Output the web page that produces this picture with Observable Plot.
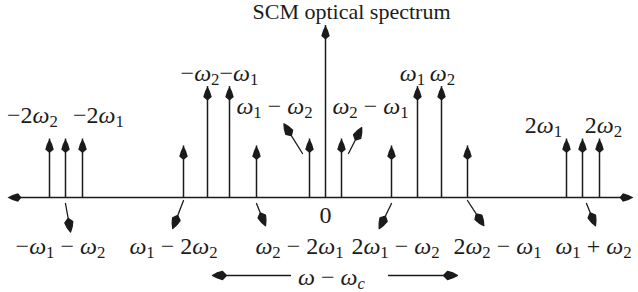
<!DOCTYPE html>
<html><head><meta charset="utf-8">
<script src="https://cdn.jsdelivr.net/npm/d3@7"></script>
<script src="https://cdn.jsdelivr.net/npm/@observablehq/plot@0.6"></script>
<style>html,body{margin:0;padding:0;background:#fff;} svg{display:block}</style>
</head><body><div id="chart"></div>
<script>
// ---- data (arbitrary frequency units, amplitude relative to carrier) ----
const tones = ["−2ω_2","−ω_1 − ω_2","−2ω_1","ω_1 − 2ω_2","−ω_2","−ω_1","ω_2 − 2ω_1","ω_1 − ω_2","0",
               "ω_2 − ω_1","2ω_1 − ω_2","ω_1","ω_2","2ω_2 − ω_1","2ω_1","ω_1 + ω_2","2ω_2"];
const freq  = [-276,-260,-243,-142,-118,-96,-69,-16,0,16,66,92,116,142,241,257,274];
const amp   = [0.34,0.34,0.34,0.30,0.645,0.645,0.30,0.34,1.0,0.34,0.30,0.645,0.645,0.30,0.34,0.34,0.34];
const title = "SCM optical spectrum";
const axisLabel = "ω − ω_c";

const data = tones.map((name, i) => ({name, f: freq[i], a: amp[i]}));
const F = Object.fromEntries(data.map(d => [d.name, d.f]));

// ---- layout (pixel offsets from a tone's base on the axis) ----
const labelLayout = [
  {text: "−2ω_2", of: "−2ω_2", dx: -17, dy: -75},
  {text: "−2ω_1", of: "−2ω_1", dx: 16, dy: -75},
  {text: "−ω_2−ω_1", of: "−ω_2", dx: 12, dy: -117},
  {text: "ω_1 − ω_2", of: "ω_1 − ω_2", dx: -35, dy: -84},
  {text: "ω_2 − ω_1", of: "ω_2 − ω_1", dx: 29, dy: -84},
  {text: "ω_1", of: "ω_1", dx: -5, dy: -117},
  {text: "ω_2", of: "ω_2", dx: 1, dy: -117},
  {text: "2ω_1", of: "2ω_1", dx: -23, dy: -65},
  {text: "2ω_2", of: "2ω_2", dx: 4, dy: -65},
  {text: "0", of: "0", dx: 0, dy: 25},
  {text: "−ω_1 − ω_2", of: "−ω_1 − ω_2", dx: -5, dy: 56},
  {text: "ω_1 − 2ω_2", of: "ω_1 − 2ω_2", dx: -10, dy: 56},
  {text: "ω_2 − 2ω_1", of: "ω_2 − 2ω_1", dx: 43, dy: 56},
  {text: "2ω_1 − ω_2", of: "2ω_1 − ω_2", dx: 4, dy: 56},
  {text: "2ω_2 − ω_1", of: "2ω_2 − ω_1", dx: 30, dy: 56},
  {text: "ω_1 + ω_2", of: "ω_1 + ω_2", dx: 11, dy: 56},
  {text: axisLabel, of: "0", dx: 6, dy: 87}
];
const leaderLayout = [
  {of: "−ω_1 − ω_2", dx: 0, dy: 6, length: 29, rotate: 170},
  {of: "ω_1 − 2ω_2", dx: 0, dy: 3, length: 30, rotate: 201},
  {of: "ω_2 − 2ω_1", dx: 0, dy: 6, length: 24, rotate: 158},
  {of: "ω_1 − ω_2", dx: -7, dy: -44, length: 35, rotate: -32},
  {of: "ω_2 − ω_1", dx: 7, dy: -44, length: 29, rotate: 27},
  {of: "2ω_1 − ω_2", dx: 0, dy: 6, length: 28, rotate: 206},
  {of: "2ω_2 − ω_1", dx: 0, dy: 3, length: 30, rotate: 147},
  {of: "ω_1 + ω_2", dx: 4, dy: 6, length: 24, rotate: 158},
  // the ω − ωc direction arrows
  {of: "0", dx: -35, dy: 78, length: 78, rotate: -90},
  {of: "0", dx: 63, dy: 78, length: 69, rotate: 90}
];

const ink = "#1b1b1b";
function head(c, L, M, W, ox, oy, ux, uy) {
  const nx = -uy, ny = ux;
  const P = (a, b) => [ox + ux * a + nx * b, oy + uy * a + ny * b];
  const t = P(0, 0), w1 = P(M, W / 2), w2 = P(M, -W / 2), bk = P(L, 0);
  const q1 = P(M * 0.45, W * 0.36), q2 = P(M * 0.45, -W * 0.36);
  c.moveTo(...t); c.quadraticCurveTo(...q1, ...w1); c.lineTo(...bk); c.lineTo(...w2); c.quadraticCurveTo(...q2, ...t); c.closePath();
}
const HL = 14, HM = 10.5, HW = 8.5;
const upHead = {draw(c) { head(c, HL, HM, HW, 0, 0, 0, 1); }};
const leftHead = {draw(c) { head(c, HL, HM, HW, 0, 0, 1, 0); }};
const rightHead = {draw(c) { head(c, HL, HM, HW, 0, 0, -1, 0); }};
const leaderShape = {draw(c, l) {
  c.moveTo(0, 0); c.lineTo(0, -l + 8);
  head(c, 14, 10, 8, 0, -l, 0, 1);
}};

const xDomain = [-325, 313];
const mathFont = "'Liberation Serif', 'DejaVu Serif', serif";
const mathSize = 24;

const svg = Plot.plot({
  width: 638, height: 292, margin: 0,
  x: {domain: xDomain, axis: null},
  y: {domain: [-0.5523, 1.1453], axis: null},
  style: {background: "#fff", overflow: "visible"},
  marks: [
    Plot.ruleY([0], {stroke: ink, strokeWidth: 1.5, insetLeft: 12, insetRight: 10}),
    Plot.dot([xDomain[0]], {x: d => d, y: 0, symbol: leftHead, fill: ink, stroke: "none", dx: 7}),
    Plot.dot([xDomain[1]], {x: d => d, y: 0, symbol: rightHead, fill: ink, stroke: "none", dx: -5}),
    Plot.ruleX(data, {x: "f", y1: 0, y2: "a", stroke: ink, strokeWidth: 1.5}),
    Plot.dot(data, {x: "f", y: "a", symbol: upHead, fill: ink, stroke: "none"}),
    ...leaderLayout.map(L => Plot.vector([L], {
      x: d => F[d.of], y: 0, dx: L.dx, dy: L.dy, length: L.length, rotate: L.rotate,
      anchor: "start", shape: leaderShape, stroke: ink, fill: ink, strokeWidth: 1.3
    })),
    ...labelLayout.map(L => Plot.text([L], {
      x: d => F[d.of], y: 0, dx: L.dx, dy: L.dy, text: "text", lineAnchor: "bottom",
      textAnchor: "middle", fontFamily: mathFont, fontSize: mathSize, fill: ink
    })),
    Plot.text([title], {x: F["0"], y: 0, dx: 26, dy: -179, text: d => d, lineAnchor: "bottom",
      textAnchor: "middle", fontFamily: "'Liberation Serif', serif", fontSize: 22, fill: ink})
  ]
});

// typeset: ω italic, "_x" as subscript
function typeset(el, fs) {
  const s = el.textContent;
  if (!/[ω_]/.test(s)) return;
  const segs = [];
  for (let i = 0; i < s.length; i++) {
    let ch = s[i], sub = false;
    if (ch === "_") { sub = true; ch = s[++i]; }
    const italic = /[a-zω]/i.test(ch);
    const last = segs[segs.length - 1];
    if (last && last.sub === sub && last.italic === italic && !sub) last.t += ch;
    else segs.push({t: ch, sub, italic});
  }
  el.textContent = "";
  const shift = 0.2 * fs;
  let down = false;
  for (const g of segs) {
    const ts = document.createElementNS("http://www.w3.org/2000/svg", "tspan");
    ts.textContent = g.t;
    if (g.italic) ts.setAttribute("font-style", "italic");
    if (g.sub) {
      ts.setAttribute("font-size", (0.7 * fs) + "px");
      if (!down) { ts.setAttribute("dy", shift); down = true; }
    } else if (down) { ts.setAttribute("dy", -shift); down = false; }
    el.appendChild(ts);
  }
}
d3.select(svg).selectAll("text").each(function() { typeset(this, mathSize); });

document.getElementById("chart").appendChild(svg);
</script>
</body></html>
